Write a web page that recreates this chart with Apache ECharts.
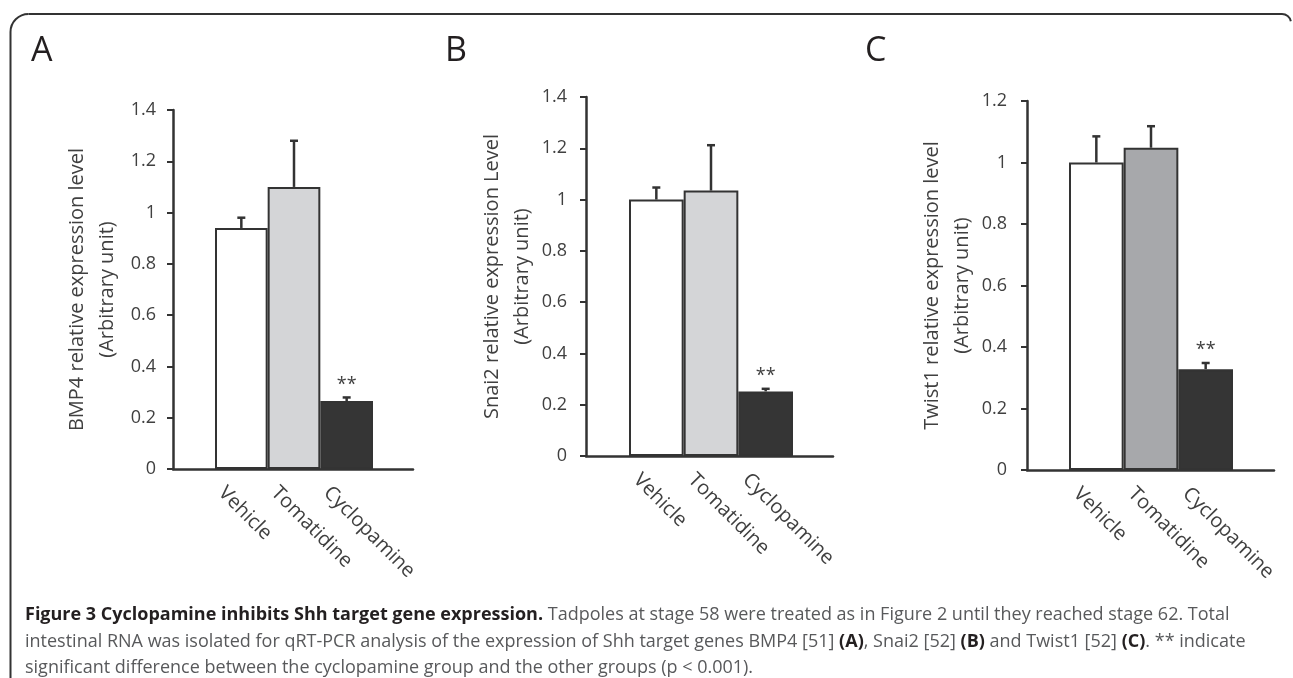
<!DOCTYPE html>
<html><head><meta charset="utf-8">
<script src="https://cdn.jsdelivr.net/npm/echarts@6/dist/echarts.min.js"></script>
<style>html,body{margin:0;padding:0;background:#fff}#c{width:1293px;height:678px}</style>
</head><body><div id="c"></div>
<script>
// ---- data ----
const categories = ['Vehicle', 'Tomatidine', 'Cyclopamine'];
const bmp4Values = [0.94, 1.10, 0.265];
const bmp4Errors = [0.04, 0.18, 0.014];
const snai2Values = [1.00, 1.035, 0.252];
const snai2Errors = [0.047, 0.177, 0.01];
const twist1Values = [1.00, 1.048, 0.328];
const twist1Errors = [0.085, 0.07, 0.02];
const significance = ['', '', '**'];
const panelLetters = ['A', 'B', 'C'];
const yTitles = ['BMP4 relative expression level\n(Arbitrary unit)',
                 'Snai2 relative expression Level\n(Arbitrary unit)',
                 'Twist1 relative expression level\n(Arbitrary unit)'];
const yMax = [1.4, 1.4, 1.2];
const yInterval = [0.2, 0.2, 0.2];

// ---- layout / style ----
const panels = [
  {values: bmp4Values, errors: bmp4Errors, axisX: 173, barLeft: 215, barRight: 373, axisRight: 413, top: 110, bottom: 469,
   nameGap: 51, tickMargin: 17, letterX: 26, fills: ['#ffffff', '#d4d5d7', '#353535']},
  {values: snai2Values, errors: snai2Errors, axisX: 586, barLeft: 629, barRight: 793, axisRight: 833, top: 97, bottom: 456,
   nameGap: 41, tickMargin: 19, letterX: 440, fills: ['#ffffff', '#d4d5d7', '#353535']},
  {values: twist1Values, errors: twist1Errors, axisX: 1027, barLeft: 1069, barRight: 1233, axisRight: 1274, top: 101, bottom: 470,
   nameGap: 50, tickMargin: 20, letterX: 860, fills: ['#ffffff', '#a7a8ab', '#353535']}
];
const FONT = '"Open Sans", "DejaVu Sans", sans-serif';
const TXT = '#404040';
const LINE = '#333333';

const grid = [], xAxis = [], yAxis = [], series = [], title = [];
panels.forEach((p, k) => {
  const gi = grid.length;
  grid.push({left: p.barLeft, width: p.barRight - p.barLeft, top: p.top, height: p.bottom - p.top});
  grid.push({left: p.axisX, width: p.axisRight - p.axisX, top: p.top, height: p.bottom - p.top});
  xAxis.push({type: 'category', gridIndex: gi, data: categories,
    axisLine: {show: false}, axisTick: {show: false},
    axisLabel: {interval: 0, rotate: -45, fontSize: 20, color: TXT, fontFamily: FONT, margin: 1,
      align: 'left', verticalAlign: 'top', lineHeight: 56}});
  xAxis.push({type: 'category', gridIndex: gi + 1, data: [''],
    axisLine: {show: true, lineStyle: {color: LINE, width: 2.5}}, axisTick: {show: false}, axisLabel: {show: false}});
  yAxis.push({type: 'value', gridIndex: gi, min: 0, max: yMax[k], interval: yInterval[k],
    offset: p.barLeft - p.axisX,
    axisLine: {show: true, lineStyle: {color: LINE, width: 2.5}},
    axisTick: {show: true, length: 6, lineStyle: {color: LINE, width: 2}},
    splitLine: {show: false},
    axisLabel: {fontSize: 18, color: TXT, fontFamily: FONT, margin: p.tickMargin},
    name: yTitles[k], nameLocation: 'middle', nameRotate: 90, nameGap: p.nameGap,
    nameTextStyle: {fontSize: 20, color: TXT, fontFamily: FONT, lineHeight: 30}});
  yAxis.push({type: 'value', gridIndex: gi + 1, min: 0, max: yMax[k], show: false});
  series.push({type: 'bar', xAxisIndex: gi, yAxisIndex: gi, barCategoryGap: '0%',
    data: p.values.map((v, i) => ({value: v, itemStyle: {color: p.fills[i]}})),
    itemStyle: {borderColor: LINE, borderWidth: 2}, silent: true, z: 2});
  series.push({type: 'custom', xAxisIndex: gi, yAxisIndex: gi, z: 3, silent: true,
    data: p.values.map((v, i) => [i, v, p.errors[i]]),
    renderItem: (params, api) => {
      const i = api.value(0);
      const base = api.coord([i, api.value(1)]);
      const top = api.coord([i, api.value(1) + api.value(2)]);
      const st = {stroke: LINE, lineWidth: 2.5};
      const children = [
        {type: 'line', shape: {x1: base[0], y1: base[1], x2: top[0], y2: top[1]}, style: st},
        {type: 'line', shape: {x1: top[0] - 4, y1: top[1], x2: top[0] + 4, y2: top[1]}, style: st}
      ];
      if (significance[params.dataIndex]) {
        children.push({type: 'text', style: {text: significance[params.dataIndex], x: top[0], y: top[1] - 4,
          align: 'center', verticalAlign: 'bottom', fontSize: 18, fill: TXT, fontFamily: FONT}});
      }
      return {type: 'group', children};
    }});
  title.push({text: panelLetters[k], left: p.letterX, top: 29,
    textStyle: {fontSize: 34, fontWeight: 'normal', color: '#231f20', fontFamily: FONT}});
});

const caption =
  '{b|Figure 3 Cyclopamine inhibits Shh target gene expression.}{n| Tadpoles at stage 58 were treated as in Figure 2 until they reached stage 62. Total}\n' +
  '{n|intestinal RNA was isolated for qRT-PCR analysis of the expression of Shh target genes BMP4 [51] }{b|(A)}{n|, Snai2 [52] }{b|(B)}{n| and Twist1 [52] }{b|(C)}{n|. ** indicate}\n' +
  '{n|significant difference between the cyclopamine group and the other groups (p < 0.001).}';
title.push({text: caption, left: 20, top: 597,
  textStyle: {fontSize: 18, fontFamily: FONT, lineHeight: 26.5,
    rich: {b: {fontWeight: 'bold', color: '#231f20', fontSize: 18, fontFamily: FONT, lineHeight: 26.5},
           n: {fontWeight: 'normal', color: '#58595b', fontSize: 18, fontFamily: FONT, lineHeight: 26.5}}}});

const border = {stroke: '#333', lineWidth: 2, fill: null};
const chart = echarts.init(document.getElementById('c'), null, {renderer: 'canvas'});
chart.setOption({
  backgroundColor: '#ffffff',
  animation: false,
  title, grid, xAxis, yAxis, series,
  graphic: [
    {type: 'polyline', silent: true, shape: {points: [[10.5, 678], [10.5, 32]]}, style: border},
    {type: 'polyline', silent: true, shape: {points: [[28.5, 14], [1282, 14]]}, style: border},
    {type: 'arc', silent: true, shape: {cx: 28.5, cy: 32, r: 18, startAngle: Math.PI, endAngle: Math.PI * 1.5}, style: border},
    {type: 'arc', silent: true, shape: {cx: 1282, cy: 23, r: 9, startAngle: -Math.PI / 2, endAngle: -0.2}, style: border}
  ]
});
</script></body></html>
